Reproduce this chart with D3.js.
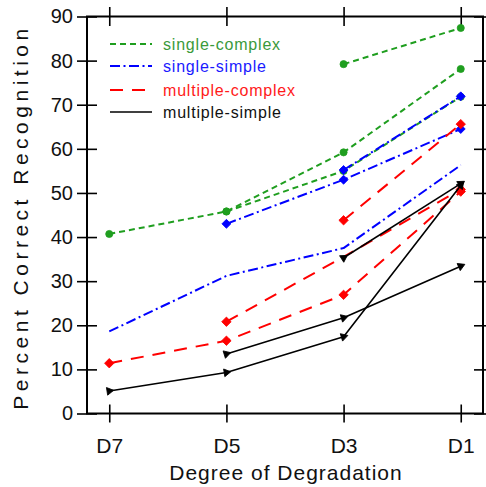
<!DOCTYPE html>
<html>
<head>
<meta charset="utf-8">
<script src="https://cdn.jsdelivr.net/npm/d3@7"></script>
<style>
  html, body { margin: 0; padding: 0; background: #fff; }
  svg { display: block; font-family: "Liberation Sans", Arial, Helvetica, sans-serif; }
</style>
</head>
<body>
<svg id="chart" width="486" height="487"></svg>
<script>
// Degradation levels along the x axis
const categories = ["D7", "D5", "D3", "D1"];
const yTicks = [0, 10, 20, 30, 40, 50, 60, 70, 80, 90];

// Percent correct recognition; each row is one run starting at a given degradation level
const singleComplex = [
  [40.7, 45.8, 59.2, 78.1],
  [null, 45.8, 55.0, 71.8],
  [null, null, 79.2, 87.4]
];
const singleSimple = [
  [18.6, 31.2, 37.5, 56.3],
  [null, 43.0, 53.0, 64.5],
  [null, null, 55.2, 71.9]
];
const multipleComplex = [
  [11.4, 16.5, 26.9, 50.3],
  [null, 20.8, 35.5, 50.8],
  [null, null, 43.8, 65.6]
];
const multipleSimple = [
  [5.1, 9.3, 17.4, 51.7],
  [null, 13.5, 21.7, 33.4],
  [null, null, 35.3, 52.1]
];

// Which points carry a marker (1) or not (0)
const singleComplexMarks   = [[1,1,1,1],[0,1,1,1],[0,0,1,1]];
const singleSimpleMarks    = [[0,0,0,0],[0,1,1,1],[0,0,1,1]];
const multipleComplexMarks = [[1,1,1,1],[0,1,0,1],[0,0,1,1]];
const multipleSimpleMarks  = [[1,1,1,1],[0,1,1,1],[0,0,1,1]];

const seriesNames = ["single-complex", "single-simple", "multiple-complex", "multiple-simple"];

const series = [
  { name: seriesNames[0], runs: singleComplex, marks: singleComplexMarks,
    color: "#1f9e1f", text: "#3a9a3a", dash: "6,4", width: 2, symbol: d3.symbolCircle, size: 40, rotate: 0 },
  { name: seriesNames[1], runs: singleSimple, marks: singleSimpleMarks,
    color: "#0000ff", text: "#1a1aff", dash: "10,3.5,2,3.5", width: 2, symbol: d3.symbolSquare, size: 40, rotate: 45 },
  { name: seriesNames[2], runs: multipleComplex, marks: multipleComplexMarks,
    color: "#ff0000", text: "#ff1a1a", dash: "13,9", width: 2, symbol: d3.symbolSquare, size: 44, rotate: 45 },
  { name: seriesNames[3], runs: multipleSimple, marks: multipleSimpleMarks,
    color: "#000000", text: "#111111", dash: null, width: 1.6, symbol: d3.symbolTriangle, size: 26, rotate: "along" }
];

const svg = d3.select("#chart");
const plotLeft = 87, plotRight = 483, plotTop = 16.5, plotBottom = 413.5;

const x = d3.scalePoint().domain(categories).range([plotLeft, plotRight]).padding(0.19);
const y = d3.scaleLinear().domain([0, 90]).range([plotBottom, plotTop]);

// Axes (ticks cross the frame lines)
const gLeft = svg.append("g").attr("transform", `translate(${plotLeft},0)`)
  .call(d3.axisLeft(y).tickValues(yTicks).tickSize(0).tickPadding(14));
gLeft.selectAll(".tick line").attr("x1", -10).attr("x2", 10);

const gRight = svg.append("g").attr("transform", `translate(${plotRight},0)`)
  .call(d3.axisRight(y).tickValues(yTicks).tickSize(0).tickFormat(""));
gRight.selectAll(".tick line").attr("x1", -9).attr("x2", 9);

const gBottom = svg.append("g").attr("transform", `translate(0,${plotBottom})`)
  .call(d3.axisBottom(x).tickSize(0).tickPadding(25));
gBottom.selectAll(".tick line").attr("y1", -9).attr("y2", 9);

const gTop = svg.append("g").attr("transform", `translate(0,${plotTop})`)
  .call(d3.axisTop(x).tickSize(0).tickFormat(""));
gTop.selectAll(".tick line").attr("y1", -9.5).attr("y2", 9.5);

[gLeft, gRight, gBottom, gTop].forEach(g => {
  g.select(".domain").remove();
  g.selectAll(".tick line").attr("stroke", "#000").attr("stroke-width", 1.6);
  g.selectAll(".tick text").attr("fill", "#111").attr("font-size", 20)
    .attr("font-family", "Liberation Sans, Arial, sans-serif");
});
gBottom.selectAll(".tick text").attr("font-size", 21);

// Frame
svg.append("rect")
  .attr("x", plotLeft).attr("y", plotTop)
  .attr("width", plotRight - plotLeft).attr("height", plotBottom - plotTop)
  .attr("fill", "none").attr("stroke", "#000").attr("stroke-width", 2);

// Axis titles
svg.append("text")
  .attr("x", (plotLeft + plotRight) / 2 + 1).attr("y", 480)
  .attr("text-anchor", "middle").attr("font-size", 21)
  .attr("letter-spacing", "1px").attr("fill", "#111")
  .text("Degree of Degradation");

svg.append("text")
  .attr("transform", `translate(28,${(plotTop + plotBottom) / 2 + 2}) rotate(-90)`)
  .attr("text-anchor", "middle").attr("font-size", 21)
  .attr("letter-spacing", "4.5px").attr("fill", "#111")
  .text("Percent Correct Recognition");

// Lines and markers
const line = d3.line()
  .defined(d => d.v !== null)
  .x(d => x(d.c)).y(d => y(d.v));

const plot = svg.append("g");

series.forEach(s => {
  const g = plot.append("g");
  s.runs.forEach(run => {
    const pts = run.map((v, i) => ({ c: categories[i], v }));
    g.append("path")
      .attr("d", line(pts))
      .attr("fill", "none")
      .attr("stroke", s.color)
      .attr("stroke-width", s.width)
      .attr("stroke-dasharray", s.dash)
      .attr("stroke-linejoin", "round");
  });
  s.runs.forEach((run, ri) => {
    const valid = run.map((v, i) => ({ c: categories[i], v, m: s.marks[ri][i] }))
      .filter(p => p.v !== null);
    valid.forEach((p, k) => {
      if (!p.m) return;
      let angle = s.rotate;
      if (s.rotate === "along") {
        const a = k > 0 ? valid[k - 1] : p;
        const b = k > 0 ? p : valid[k + 1];
        const dx = x(b.c) - x(a.c), dy = y(b.v) - y(a.v);
        angle = Math.atan2(dy, dx) * 180 / Math.PI + 90;
      }
      g.append("path")
        .attr("d", d3.symbol().type(s.symbol).size(s.size)())
        .attr("transform", `translate(${x(p.c)},${y(p.v)}) rotate(${angle})`)
        .attr("fill", s.color)
        .attr("stroke", s.color)
        .attr("stroke-width", 0.8);
    });
  });
});

// Legend
const legend = svg.append("g").attr("transform", "translate(110,44)");
const legendRows = [0, 22, 46, 68];
series.forEach((s, i) => {
  const rowY = legendRows[i];
  legend.append("line")
    .attr("x1", 0).attr("x2", 42).attr("y1", rowY).attr("y2", rowY)
    .attr("stroke", s.color).attr("stroke-width", s.width)
    .attr("stroke-dasharray", s.dash);
  legend.append("text")
    .attr("x", 53).attr("y", rowY).attr("dy", "0.35em")
    .attr("font-size", 16).attr("letter-spacing", "0.8px")
    .attr("fill", s.text)
    .text(s.name);
});
</script>
</body>
</html>
